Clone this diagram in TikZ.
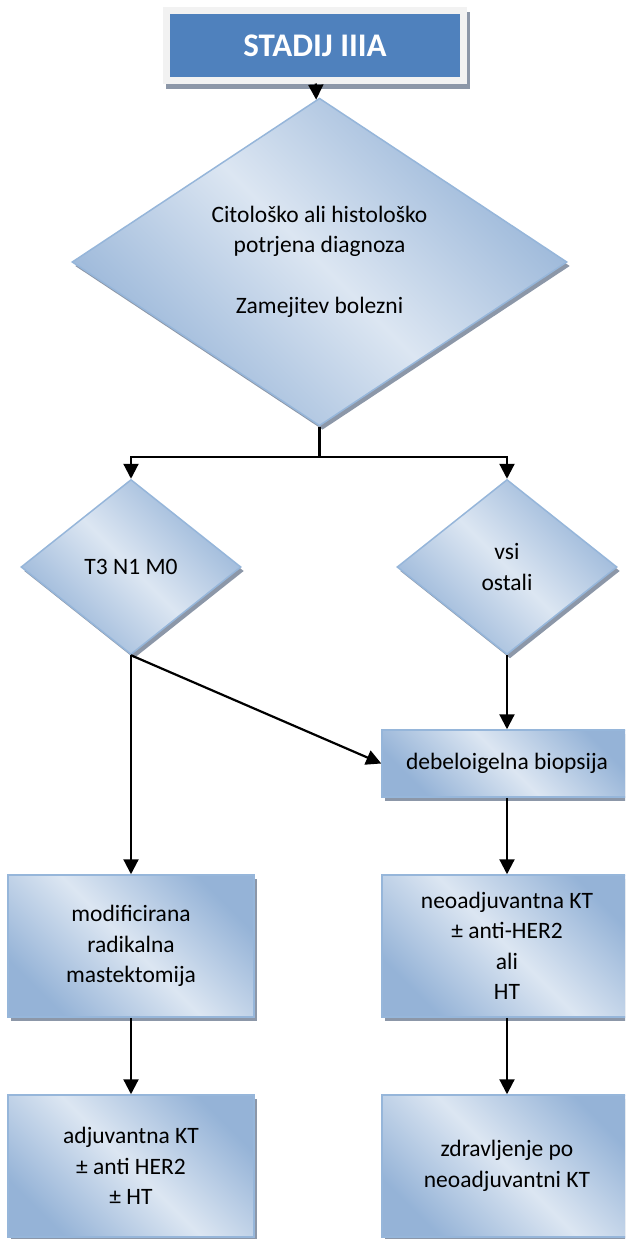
\documentclass[tikz,border=0pt]{standalone}
\usepackage{fontspec}
\setmainfont{Carlito}
\usetikzlibrary{positioning,shapes.geometric,shadows,arrows.meta}

\definecolor{titleblue}{RGB}{79,129,189}
\definecolor{framegray}{RGB}{242,242,242}
\definecolor{shadowgray}{RGB}{140,151,168}
\definecolor{boxlight}{RGB}{220,230,242}
\definecolor{boxdark}{RGB}{149,179,215}
\definecolor{boxline}{RGB}{150,182,218}

\tikzset{
  shapefill/.style={top color=boxdark, bottom color=boxdark, middle color=boxlight,
    shading angle=-45, draw=boxline, line width=1.5pt,
    drop shadow={shadow xshift=3pt, shadow yshift=-4pt, opacity=1, fill=shadowgray}},
  txt/.style={font=\fontsize{23.5pt}{30.5pt}\selectfont, align=center},
  choice/.style={shapefill, txt, diamond, inner sep=0pt},
  treatment/.style={shapefill, txt, rectangle, inner sep=0pt},
  arrow/.style={line width=2.2pt, -{Triangle[length=15pt,width=15pt]}},
  plain/.style={line width=2.2pt}
}

\begin{document}
\begin{tikzpicture}[x=1pt,y=-1pt]
	\clip (0,0) rectangle (625,1239);
	
	\node[fill=titleblue, draw=framegray, line width=7pt, text=white,
	  minimum width=297pt, minimum height=69pt,
	  font=\fontsize{33pt}{40pt}\bfseries\selectfont,
	  drop shadow={shadow xshift=3pt, shadow yshift=-5pt, opacity=1,
	    fill=shadowgray, draw=shadowgray, line width=7pt}]
	  (stadij) at (315,45.5) {STADIJ IIIA};
	
	\node[choice, minimum width=495pt, minimum height=270pt] (dmain) at (319.5,262)
	  {Citološko ali histološko\\potrjena diagnoza\\[30.5pt]Zamejitev bolezni};
	
	\node[choice, minimum width=220pt, minimum height=175pt] (dleft) at (131,567) {T3 N1 M0};
	\node[choice, minimum width=220pt, minimum height=175pt] (dright) at (507,567) {vsi\\ostali};
	
	\node[treatment, minimum width=250pt, minimum height=67pt] (biopsija) at (507,763.5)
	  {debeloigelna biopsija};
	
	\node[treatment, minimum width=246pt, minimum height=142pt] (mrm) at (131,946)
	  {modificirana\\radikalna\\mastektomija};
	\node[treatment, minimum width=250pt, minimum height=142pt] (neoadj) at (507,946)
	  {neoadjuvantna KT\\± anti-HER2\\ali\\HT};
	
	\node[treatment, minimum width=246pt, minimum height=142pt] (adj) at (131,1166)
	  {adjuvantna KT\\± anti HER2\\± HT};
	\node[treatment, minimum width=250pt, minimum height=142pt] (zdrav) at (507,1166)
	  {zdravljenje po\\neoadjuvantni KT};
	
	\draw[arrow] (stadij) -- (dmain);
	\draw[plain] (dmain.south) -- ++(0,30) coordinate (split);
	\draw[arrow] (split) -| (dleft.north);
	\draw[arrow] (split) -| (dright.north);
	
	\draw[arrow] (dleft.south) -- (mrm.north);
	\draw[arrow] (dleft.south) -- (biopsija.west);
	\draw[arrow] (dright.south) -- (biopsija.north);
	\draw[arrow] (biopsija) -- (neoadj);
	\draw[arrow] (mrm) -- (adj);
	\draw[arrow] (neoadj) -- (zdrav);
	
\end{tikzpicture}
\end{document}
